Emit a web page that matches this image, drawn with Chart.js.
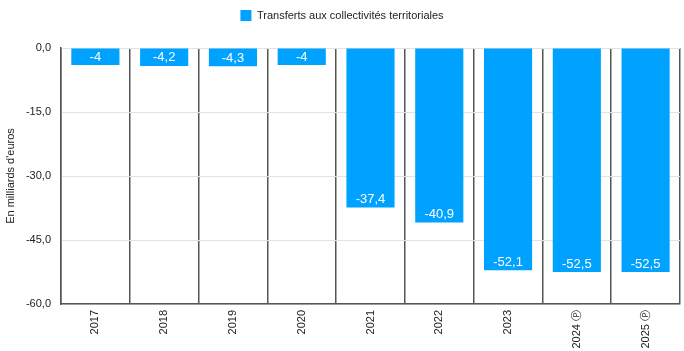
<!DOCTYPE html>
<html>
<head>
<meta charset="utf-8">
<script src="https://cdn.jsdelivr.net/npm/chart.js@4"></script>
<style>
  html, body { margin: 0; padding: 0; background: #fff; }
  #wrap { width: 684px; height: 351px; }
</style>
</head>
<body>
<div id="wrap"><canvas id="chart"></canvas></div>
<script>
// Transferts aux collectivités territoriales, en milliards d'euros
const YEARS  = ['2017', '2018', '2019', '2020', '2021', '2022', '2023', '2024 Ⓟ', '2025 Ⓟ'];
const VALUES = [-4, -4.2, -4.3, -4, -37.4, -40.9, -52.1, -52.5, -52.5];
const SERIES_LABEL = 'Transferts aux collectivités territoriales';
const BAR_COLOR = '#00a2ff';

const fmt = v => String(v).replace('.', ',');

// ── Value labels drawn inside the bar end ────────────────────────────────────
const valueLabels = {
  id: 'valueLabels',
  afterDatasetsDraw(chart) {
    const { ctx } = chart;
    const meta = chart.getDatasetMeta(0);
    ctx.save();
    ctx.fillStyle = '#ffffff';
    ctx.font = '13px "Liberation Sans", Arial, sans-serif';
    ctx.textAlign = 'center';
    ctx.textBaseline = 'middle';
    meta.data.forEach((bar, i) => {
      ctx.fillText(fmt(VALUES[i]), bar.x, bar.y - 8);
    });
    ctx.restore();
  }
};

// ── Extra space under the legend ─────────────────────────────────────────────
const legendGap = {
  id: 'legendGap',
  beforeInit(chart) {
    const origFit = chart.legend.fit;
    chart.legend.fit = function () {
      origFit.call(this);
      this.height += 17;
    };
  }
};

new Chart(document.getElementById('chart'), {
  type: 'bar',
  data: {
    labels: YEARS,
    datasets: [{
      label: SERIES_LABEL,
      data: VALUES,
      backgroundColor: BAR_COLOR,
      borderWidth: 0,
      barPercentage: 0.7,
      categoryPercentage: 1
    }]
  },
  plugins: [valueLabels, legendGap],
  options: {
    responsive: true,
    maintainAspectRatio: false,
    animation: false,
    layout: { padding: { top: 0, right: 4, left: 4, bottom: 0 } },
    plugins: {
      tooltip: { enabled: false },
      legend: {
        position: 'top',
        labels: {
          color: '#222',
          font: { family: '"Liberation Sans", Arial, sans-serif', size: 11 },
          boxWidth: 11,
          boxHeight: 11,
          padding: 10
        }
      }
    },
    scales: {
      x: {
        grid: {
          offset: true,
          color: '#555',
          lineWidth: 1.5,
          drawTicks: false
        },
        border: { color: '#555', width: 1.5 },
        ticks: {
          color: '#222',
          minRotation: 90,
          maxRotation: 90,
          padding: 6,
          font: { family: '"Liberation Sans", Arial, sans-serif', size: 11 }
        },
        afterFit: s => { s.height = 47; }
      },
      y: {
        min: -60,
        max: 0,
        ticks: {
          stepSize: 15,
          color: '#222',
          padding: 10,
          font: { family: '"Liberation Sans", Arial, sans-serif', size: 11 },
          callback: v => v.toFixed(1).replace('.', ',')
        },
        grid: { color: '#e2e2e2', lineWidth: 1, drawTicks: false },
        border: { color: '#555', width: 1.5 },
        title: {
          display: true,
          text: "En milliards d'euros",
          color: '#222',
          font: { family: '"Liberation Sans", Arial, sans-serif', size: 11 },
          padding: { top: 0, bottom: 4 }
        },
        afterFit: s => { s.width = 57; }
      }
    }
  }
});
</script>
</body>
</html>
